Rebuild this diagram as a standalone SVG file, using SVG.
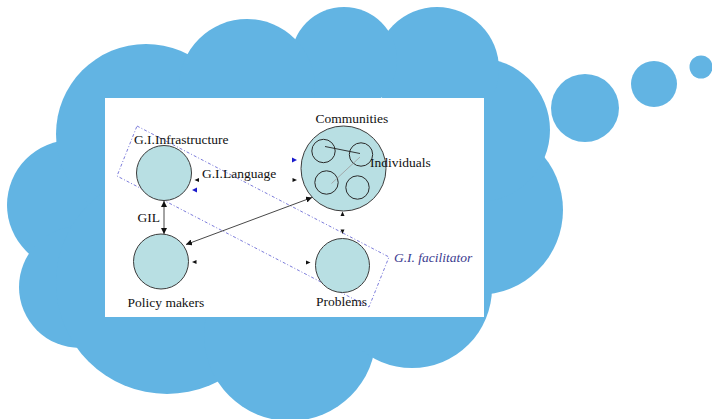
<svg xmlns="http://www.w3.org/2000/svg" width="712" height="419" viewBox="0 0 712 419">
  <defs>
    <style>
      .cloud { fill: #62b4e3; }
      .panel { fill: #ffffff; }
      .node { fill: #b8dfe3; stroke: #3c3c3c; stroke-width: 1; }
      .sub { fill: none; stroke: #2a2a2a; stroke-width: 1; }
      .lbl { font-family: "Liberation Serif", "Times New Roman", serif; font-size: 13.5px; fill: #111111; }
      .fac { font-family: "Liberation Serif", "Times New Roman", serif; font-size: 13.5px; font-style: italic; fill: #3b3b8f; }
      .link { fill: none; stroke: #333333; stroke-width: 0.9; }
      .frame { fill: none; stroke: #5a5ad0; stroke-width: 0.8; stroke-dasharray: 3 2 1 2; }
      .tip { fill: #111111; }
      .tipb { fill: #1a1acc; }
    </style>
    <marker id="ah" viewBox="0 0 6 6" refX="6" refY="3" markerWidth="6" markerHeight="6" markerUnits="userSpaceOnUse" orient="auto-start-reverse">
      <path d="M0,0 L6,3 L0,6 Z" fill="#111111"/>
    </marker>
  </defs>

  <!-- thought cloud built from overlapping lobes -->
  <g id="cloud" class="cloud">
    <circle cx="72" cy="205" r="65"/>
    <circle cx="146" cy="134" r="90"/>
    <circle cx="80" cy="287" r="61"/>
    <circle cx="167" cy="283" r="111"/>
    <circle cx="290" cy="335" r="86"/>
    <circle cx="412" cy="288" r="80"/>
    <circle cx="478" cy="210" r="85"/>
    <circle cx="478" cy="130" r="72"/>
    <circle cx="437" cy="69" r="62"/>
    <circle cx="344" cy="60" r="53"/>
    <circle cx="247" cy="87" r="68"/>
    <circle cx="585" cy="108" r="34"/>
    <circle cx="654" cy="84" r="23"/>
    <circle cx="701" cy="67" r="11.5"/>
  </g>

  <rect class="panel" x="105" y="98" width="379" height="219"/>

  <!-- facilitator boundary -->
  <g id="facilitator">
    <polygon class="frame" points="137,126 389,257 369,307 117,176"/>
    <text class="fac" x="394" y="262">G.I. facilitator</text>
  </g>

  <g id="infrastructure">
    <circle class="node" cx="164" cy="173" r="27.5"/>
    <text class="lbl" x="134" y="144">G.I.Infrastructure</text>
  </g>

  <g id="language">
    <text class="lbl" x="202" y="177.5">G.I.Language</text>
  </g>

  <g id="policy">
    <circle class="node" cx="161" cy="261.5" r="27.5"/>
    <text class="lbl" x="127.5" y="307">Policy makers</text>
  </g>

  <g id="communities">
    <circle class="node" cx="343.5" cy="168.5" r="42.5"/>
    <circle class="sub" cx="323.5" cy="151" r="11.7"/>
    <circle class="sub" cx="361" cy="154.5" r="11.7"/>
    <circle class="sub" cx="326.5" cy="182.5" r="11.7"/>
    <circle class="sub" cx="357.5" cy="187.5" r="11.7"/>
    <line x1="325" y1="146.5" x2="360" y2="153.5" stroke="#222222" stroke-width="0.9"/>
    <line x1="331.5" y1="183.5" x2="360" y2="157" stroke="#9a9a9a" stroke-width="0.8"/>
    <text class="lbl" x="315.5" y="123">Communities</text>
    <text class="lbl" x="370" y="167">Individuals</text>
  </g>

  <g id="problems">
    <circle class="node" cx="342.5" cy="265.5" r="27"/>
    <text class="lbl" x="316" y="306">Problems</text>
  </g>

  <g id="connectors">
    <!-- GIL: infrastructure <-> policy makers -->
    <line class="link" x1="164" y1="201" x2="164" y2="234" marker-start="url(#ah)" marker-end="url(#ah)"/>
    <text class="lbl" x="137.5" y="222">GIL</text>
    <!-- policy makers <-> communities -->
    <line class="link" x1="186" y1="244.5" x2="312" y2="197.5" marker-start="url(#ah)" marker-end="url(#ah)"/>
    <!-- loose arrow tips -->
    <polygon class="tip" points="194.5,180 199,178 199,182"/>
    <polygon class="tipb" points="192,190 197,187.5 197,192.5"/>
    <polygon class="tipb" points="297,160 292,157.5 292,162.5"/>
    <polygon class="tip" points="297,180 292.5,178 292.5,182"/>
    <polygon class="tip" points="342.5,211.5 340.5,216 344.5,216"/>
    <polygon class="tip" points="342.5,234 340.5,229.5 344.5,229.5"/>
    <polygon class="tip" points="192,262 196.5,260 196.5,264"/>
    <polygon class="tip" points="310.5,262.5 306,260.5 306,264.5"/>
  </g>
</svg>
